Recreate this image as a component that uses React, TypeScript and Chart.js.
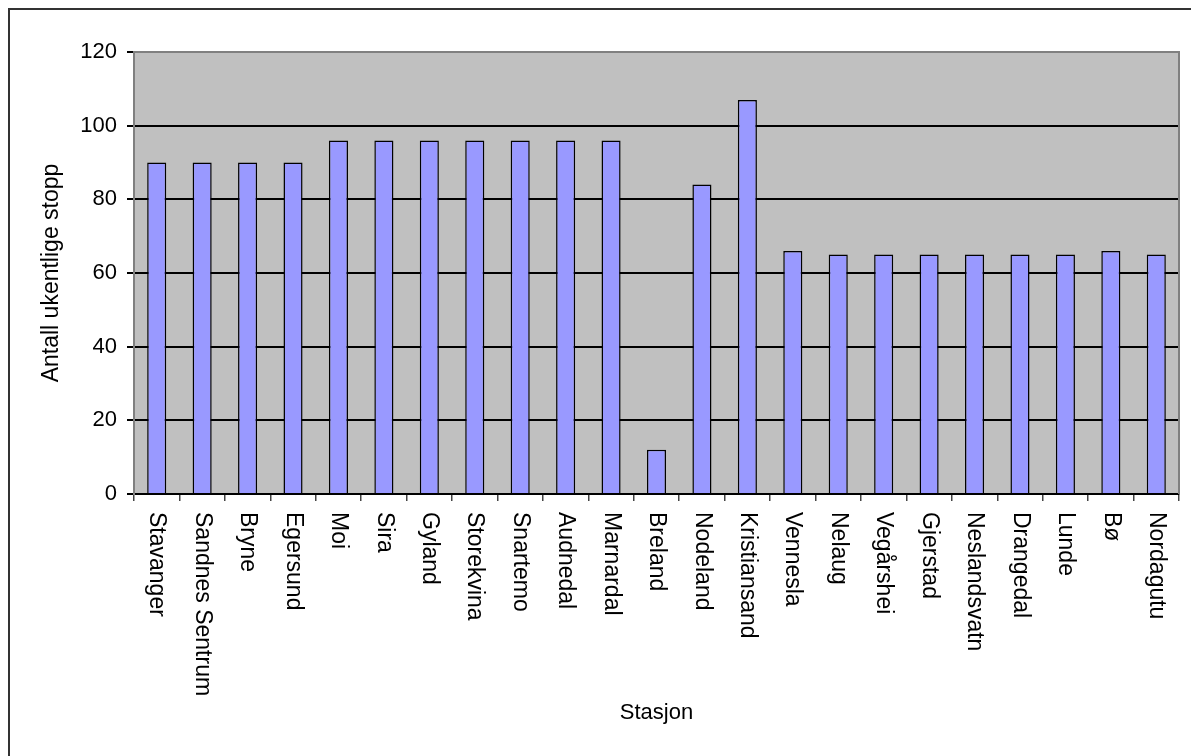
import { useEffect, useRef } from "react";
import { Chart, registerables } from "chart.js";

Chart.register(...registerables);

const stations = [
  "Stavanger",
  "Sandnes Sentrum",
  "Bryne",
  "Egersund",
  "Moi",
  "Sira",
  "Gyland",
  "Storekvina",
  "Snartemo",
  "Audnedal",
  "Marnardal",
  "Breland",
  "Nodeland",
  "Kristiansand",
  "Vennesla",
  "Nelaug",
  "Vegårshei",
  "Gjerstad",
  "Neslandsvatn",
  "Drangedal",
  "Lunde",
  "Bø",
  "Nordagutu",
];

const weeklyStops = [90, 90, 90, 90, 96, 96, 96, 96, 96, 96, 96, 12, 84, 107, 66, 65, 65, 65, 65, 65, 65, 66, 65];

const yMin = 0;
const yMax = 120;
const yStep = 20;

const FONT = "'Liberation Sans', Arial, sans-serif";

// Grey plot background and frame around the chart area
const plotFrame = {
  id: "plotFrame",
  beforeDraw(chart: any) {
    const { ctx, chartArea: a } = chart;
    ctx.save();
    ctx.fillStyle = "#C0C0C0";
    ctx.fillRect(a.left, a.top, a.right - a.left, a.bottom - a.top);
    ctx.restore();
  },
  afterDatasetsDraw(chart: any) {
    const { ctx, chartArea: a } = chart;
    ctx.save();
    ctx.strokeStyle = "#808080";
    ctx.lineWidth = 2;
    ctx.beginPath();
    ctx.moveTo(a.left, a.top);
    ctx.lineTo(a.right, a.top);
    ctx.lineTo(a.right, a.bottom);
    ctx.stroke();
    ctx.restore();
  },
};

// Category labels written top-to-bottom under each bar
const verticalLabels = {
  id: "verticalLabels",
  afterDraw(chart: any) {
    const { ctx } = chart;
    const x = chart.scales.x;
    ctx.save();
    ctx.fillStyle = "#000";
    ctx.font = `23px ${FONT}`;
    ctx.textAlign = "left";
    ctx.textBaseline = "middle";
    stations.forEach((name, i) => {
      const px = x.getPixelForValue(i);
      ctx.save();
      ctx.translate(px, x.top + 18);
      ctx.rotate(Math.PI / 2);
      ctx.fillText(name, 0, 0);
      ctx.restore();
    });
    ctx.restore();
  },
};

export default function App() {
  const canvasRef = useRef<HTMLCanvasElement | null>(null);

  useEffect(() => {
    if (!canvasRef.current) return;
    const chart = new Chart(canvasRef.current, {
      type: "bar",
      data: {
        labels: stations,
        datasets: [
          {
            data: weeklyStops,
            backgroundColor: "#9999FF",
            borderColor: "#000",
            borderWidth: 1.5,
            barPercentage: 0.42,
            categoryPercentage: 1,
          },
        ],
      },
      options: {
        responsive: false,
        animation: false,
        devicePixelRatio: 1,
        layout: { padding: { left: 0, top: 42, right: 12, bottom: 0 } },
        plugins: {
          legend: { display: false },
          tooltip: { enabled: false },
        },
        scales: {
          x: {
            offset: true,
            grid: {
              offset: true,
              drawOnChartArea: false,
              drawTicks: true,
              tickLength: 7,
              color: "#444",
              lineWidth: 1.5,
            },
            border: { display: true, color: "#000", width: 2 },
            ticks: { display: false },
            title: {
              display: true,
              text: "Stasjon",
              color: "#000",
              font: { family: FONT, size: 22 },
              padding: { top: 0, bottom: 30 },
            },
            afterFit(scale: any) {
              scale.height = 262;
            },
          },
          y: {
            min: yMin,
            max: yMax,
            ticks: {
              stepSize: yStep,
              color: "#000",
              padding: 10,
              font: { family: FONT, size: 22 },
            },
            grid: {
              color: (c: any) => (c.tick && c.tick.value === yMax ? "#808080" : "#000"),
              lineWidth: 2,
              tickLength: 7,
              tickColor: "#000",
            },
            border: { display: true, color: "#808080", width: 2 },
            title: {
              display: true,
              text: "Antall ukentlige stopp",
              color: "#000",
              font: { family: FONT, size: 23 },
              padding: { top: 28, bottom: 0 },
            },
            afterFit(scale: any) {
              scale.width = 124;
            },
          },
        },
      },
      plugins: [plotFrame, verticalLabels],
    });
    return () => chart.destroy();
  }, []);

  return (
    <div
      style={{
        position: "fixed",
        left: 8,
        top: 8,
        width: 1183,
        height: 748,
        borderTop: "2px solid #333",
        borderLeft: "2px solid #333",
        boxSizing: "border-box",
        background: "#fff",
      }}
    >
      <canvas ref={canvasRef} width={1181} height={746} style={{ display: "block" }} />
    </div>
  );
}
